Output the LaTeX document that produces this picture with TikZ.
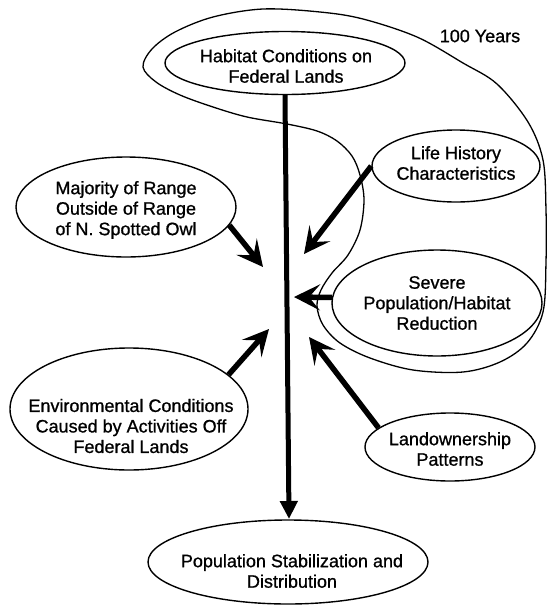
\documentclass[tikz,border=0pt]{standalone}
\usepackage{fontspec}
\setmainfont[FakeBold=0.9]{Liberation Sans}
\usetikzlibrary{shapes.geometric,arrows.meta}
\begin{document}
\begin{tikzpicture}[x=1pt,y=-1pt,
  oval/.style={draw,ellipse,line width=1.4pt,inner sep=0pt},
  lbl/.style={align=center,font=\fontsize{18}{20.5}\selectfont,inner sep=0pt},
  fat/.style={line width=5.5pt,-{Stealth[length=26pt,width=26pt,inset=11pt]}},
  trunk/.style={line width=5pt,-{Triangle[length=18pt,width=17pt]}},
  loop/.style={line width=1.3pt}]
\useasboundingbox[fill=white] (0,0) rectangle (547,606);

% ellipses
\node[oval,minimum width=240pt,minimum height=63pt] (hab) at (285,63) {};
\node[lbl] (habt) at (286,66) {Habitat Conditions on\\Federal Lands};

\node[oval,minimum width=168pt,minimum height=72pt] (life) at (456,166) {};
\node[lbl] (lifet) at (456,163) {Life History\\Characteristics};

\node[oval,minimum width=220pt,minimum height=100pt] (maj) at (126,207) {};
\node[lbl] (majt) at (126,210) {Majority of Range\\Outside of Range\\of N. Spotted Owl};

\node[oval,minimum width=210pt,minimum height=106pt] (sev) at (437,303) {};
\node[lbl] (sevt) at (437,303) {Severe\\Population/Habitat\\Reduction};

\node[oval,minimum width=238pt,minimum height=122pt] (env) at (129,409) {};
\node[lbl] (envt) at (131,426) {Environmental Conditions\\Caused by Activities Off\\Federal Lands};

\node[oval,minimum width=170pt,minimum height=68pt] (land) at (450,447) {};
\node[lbl] (landt) at (450,449) {Landownership\\Patterns};

\node[oval,minimum width=280pt,minimum height=84pt] (pop) at (288,562) {};
\node[lbl] (popt) at (292,571) {Population Stabilization and\\Distribution};

\node[lbl] (yrs) at (480,36) {100 Years};

% free-hand loop
\draw[loop] plot[smooth cycle,tension=0.55] coordinates {
 (143,67) (152,49) (175,32) (213,17) (263,9) (320,12) (363,19) (417,37)
 (463,63) (497,84) (528,122) (543,160) (546,210) (546,262) (543,312)
 (527,343) (500,362) (463,372) (413,370) (370,358) (340,343) (323,325)
 (317,306) (321,290) (332,273) (348,255) (360,230) (364,200) (360,175)
 (352,156) (337,141) (317,131) (287,124) (247,117) (213,107) (180,95) (156,82)};

% arrow tips
\coordinate (mtip) at (289,519);
\coordinate (t1) at (263,267);
\coordinate (t2) at (269,329);
\coordinate (t3) at (304,254);
\coordinate (t4) at (294,297);
\coordinate (t5) at (309,337);

% connectors
\draw[trunk] (hab.south) -- (mtip);
\draw[fat] (maj.-10) -- (t1);
\draw[fat] (env.19) -- (t2);
\draw[fat] (life.west) -- (t3);
\draw[fat] (sev.177) -- (t4);
\draw[fat] (land.165) -- (t5);
\end{tikzpicture}
\end{document}
